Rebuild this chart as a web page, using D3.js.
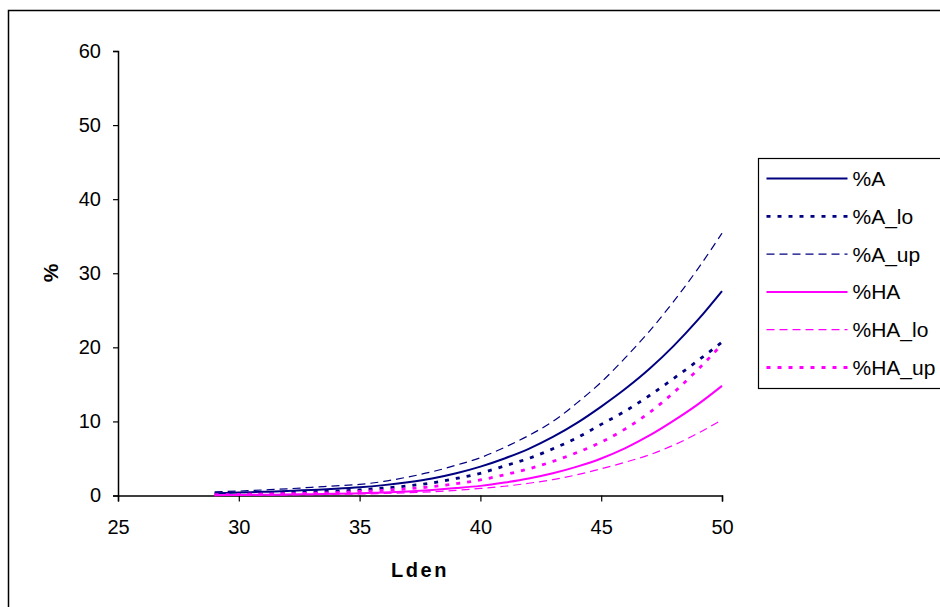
<!DOCTYPE html>
<html lang="en">
<head>
    <meta charset="UTF-8">
    <title>Annoyance vs Lden</title>
    <style>
        body { margin: 0; background: #fff; }
        text { font-family: 'Liberation Sans', Arial, sans-serif; fill: #000; }
        .line { fill: none; }
    </style>
</head>
<body>

<script src="https://d3js.org/d3.v7.min.js"></script>

<script>

    const width = 940;
    const height = 607;

    // Lden values and the six series
    const lden = [29, 30, 31, 32, 33, 34, 35, 36, 37, 38, 39, 40, 41, 42, 43, 44, 45, 46, 47, 48, 49, 50];
    const pA    = [0.3, 0.4, 0.5, 0.6, 0.75, 0.9, 1.1, 1.4, 1.8, 2.3, 3.0, 3.9, 5.0, 6.3, 7.9, 9.8, 12.0, 14.4, 17.1, 20.2, 23.7, 27.6];
    const pAlo  = [0.2, 0.25, 0.3, 0.4, 0.5, 0.6, 0.75, 1.0, 1.3, 1.7, 2.3, 3.0, 4.0, 5.0, 6.3, 7.8, 9.6, 11.4, 13.5, 15.8, 18.2, 20.7];
    const pAup  = [0.5, 0.6, 0.75, 0.9, 1.1, 1.3, 1.5, 1.9, 2.5, 3.2, 4.1, 5.1, 6.5, 8.1, 10.0, 12.5, 15.3, 18.6, 22.2, 26.2, 30.6, 35.4];
    const pHA   = [0.05, 0.07, 0.1, 0.13, 0.17, 0.22, 0.3, 0.4, 0.55, 0.75, 1.0, 1.3, 1.75, 2.3, 3.0, 3.9, 5.0, 6.4, 8.1, 10.1, 12.3, 14.8];
    const pHAlo = [0.03, 0.05, 0.07, 0.09, 0.12, 0.16, 0.2, 0.28, 0.38, 0.5, 0.7, 0.95, 1.25, 1.65, 2.15, 2.8, 3.6, 4.5, 5.5, 6.8, 8.4, 10.2];
    const pHAup = [0.1, 0.15, 0.2, 0.25, 0.3, 0.4, 0.55, 0.7, 0.9, 1.2, 1.6, 2.1, 2.8, 3.6, 4.6, 5.8, 7.2, 9.0, 11.2, 13.9, 17.0, 20.4];

    const xTicks = [25, 30, 35, 40, 45, 50];
    const yTicks = [0, 10, 20, 30, 40, 50, 60];

    const series = [
        {name: '%A',     values: pA,    colour: '#000080', width: 2,   dash: null},
        {name: '%A_lo',  values: pAlo,  colour: '#000080', width: 2.8, dash: '4,7'},
        {name: '%A_up',  values: pAup,  colour: '#000080', width: 1.2, dash: '8,5'},
        {name: '%HA',    values: pHA,   colour: '#ff00ff', width: 2,   dash: null},
        {name: '%HA_lo', values: pHAlo, colour: '#ff00ff', width: 1.2, dash: '8,5'},
        {name: '%HA_up', values: pHAup, colour: '#ff00ff', width: 2.8, dash: '4,7'}
    ];

    const plot = {left: 118, right: 722, top: 51, bottom: 495.5};

    let svg = d3.select('body').append('svg')
        .attr('width', width)
        .attr('height', height);

    // outer frame, runs off the right and bottom edge
    svg.append('rect')
        .attr('x', 8.5)
        .attr('y', 10.5)
        .attr('width', 1000)
        .attr('height', 1000)
        .style('fill', '#fff')
        .style('stroke', '#000')
        .style('stroke-width', 1.5);

    let x = d3.scaleLinear().domain([25, 50]).range([plot.left, plot.right]);
    let y = d3.scaleLinear().domain([0, 60]).range([plot.bottom, plot.top]);

    let xAxis = svg.append('g')
        .attr('transform', 'translate(0,' + plot.bottom + ')')
        .call(d3.axisBottom(x).tickValues(xTicks).tickSize(6).tickPadding(14));

    let yAxis = svg.append('g')
        .attr('transform', 'translate(' + plot.left + ',0)')
        .call(d3.axisLeft(y).tickValues(yTicks).tickSize(5).tickPadding(12));

    [xAxis, yAxis].forEach(function(a) {
        a.attr('font-size', null).attr('font-family', null);
        a.select('.domain').style('stroke', '#000').style('stroke-width', 1.5);
        a.selectAll('.tick line').style('stroke', '#000').style('stroke-width', 1.2);
        a.selectAll('.tick text')
            .style('font-family', "'Liberation Sans', Arial, sans-serif")
            .style('font-size', '20px')
            .style('fill', '#000');
    });
    xAxis.selectAll('.tick text').attr('dy', '0.92em');

    svg.append('text')
        .attr('x', 420)
        .attr('y', 577)
        .attr('text-anchor', 'middle')
        .style('font-size', '20px')
        .style('font-weight', 'bold')
        .style('letter-spacing', '2.5px')
        .text('Lden');

    svg.append('text')
        .attr('transform', 'translate(58,273) rotate(-90)')
        .attr('text-anchor', 'middle')
        .style('font-size', '21px')
        .style('font-weight', 'bold')
        .text('%');

    let line = d3.line()
        .curve(d3.curveMonotoneX)
        .x(function(d, i) { return x(lden[i]); })
        .y(function(d) { return y(d); });

    let lines = svg.append('g');
    series.forEach(function(s) {
        lines.append('path')
            .datum(s.values)
            .classed('line', true)
            .attr('d', line)
            .style('stroke', s.colour)
            .style('stroke-width', s.width)
            .style('stroke-dasharray', s.dash);
    });

    // legend
    let legend = svg.append('g').attr('transform', 'translate(758.5,158.5)');

    legend.append('rect')
        .attr('width', 300)
        .attr('height', 230)
        .style('fill', '#fff')
        .style('stroke', '#000')
        .style('stroke-width', 1.2);

    series.forEach(function(s, i) {
        let ry = 20 + i * 37.8;
        legend.append('line')
            .attr('x1', 8)
            .attr('x2', 89)
            .attr('y1', ry)
            .attr('y2', ry)
            .style('stroke', s.colour)
            .style('stroke-width', s.width)
            .style('stroke-dasharray', s.dash);
        legend.append('text')
            .attr('x', 94)
            .attr('y', ry + 7.5)
            .style('font-size', '21px')
            .text(s.name);
    });

</script>

</body>
</html>
